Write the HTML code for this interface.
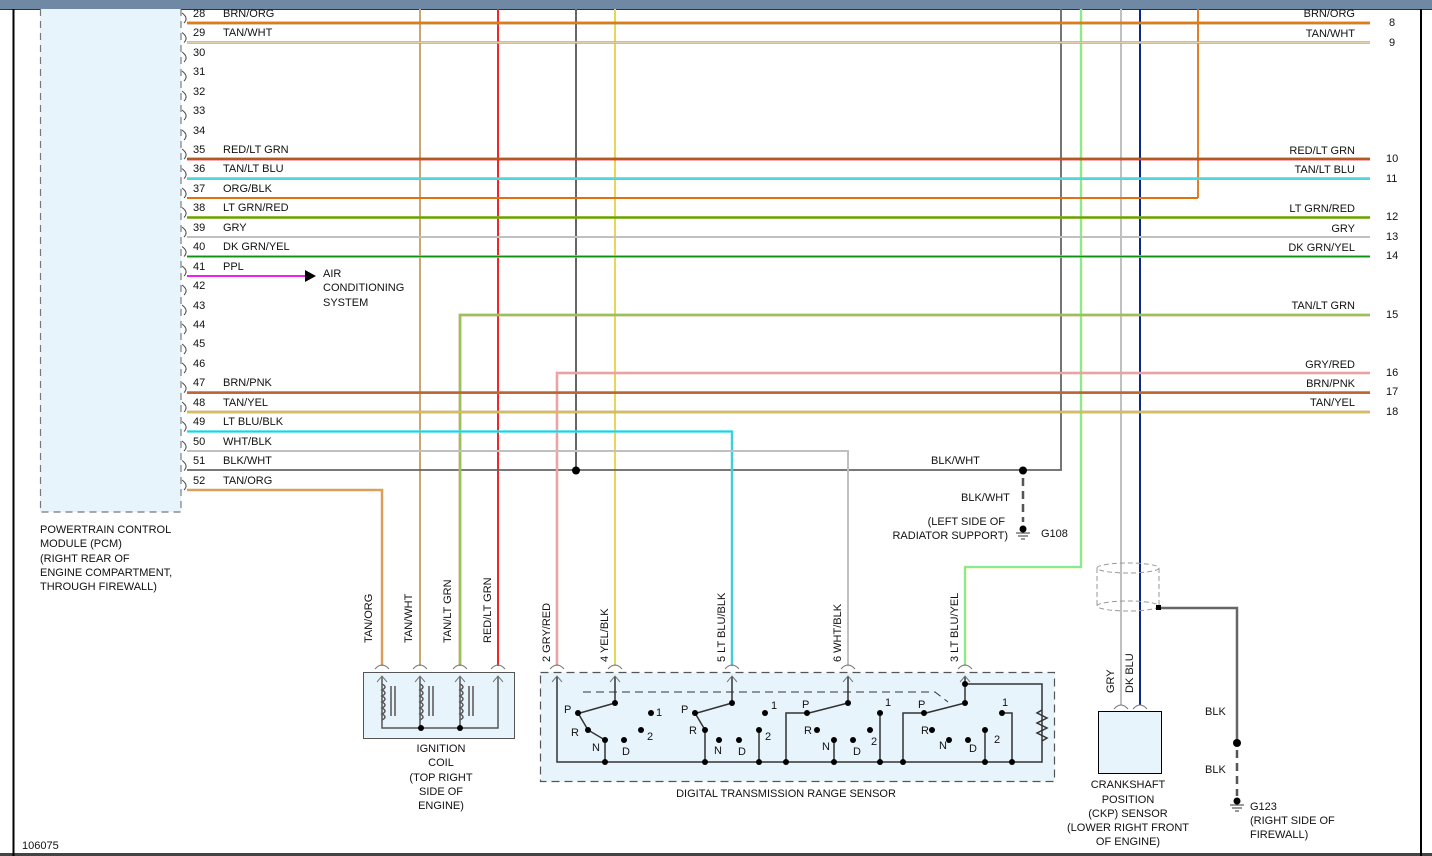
<!DOCTYPE html>
<html><head><meta charset="utf-8"><style>
html,body{margin:0;padding:0;background:#fff;}
svg{display:block;font-family:"Liberation Sans",sans-serif;font-size:11px;}
</style></head><body>
<svg width="1432" height="856" viewBox="0 0 1432 856" xmlns="http://www.w3.org/2000/svg">
<rect x="0" y="0" width="1432" height="856" fill="#fff"/>
<rect x="0" y="0" width="1432" height="9" fill="#6f88a3"/>
<line x1="0" y1="9.5" x2="1432" y2="9.5" stroke="#333" stroke-width="1"/>
<rect x="0" y="853" width="1432" height="3" fill="#444"/>
<line x1="13.5" y1="9" x2="13.5" y2="856" stroke="#000" stroke-width="2"/>
<line x1="1421" y1="9" x2="1421" y2="856" stroke="#000" stroke-width="2"/>

<rect x="40" y="9" width="141" height="503" fill="#e8f4fc"/>
<path d="M40.5,9 V512 H181" fill="none" stroke="#777" stroke-width="1.2" stroke-dasharray="7,5"/>
<path d="M181,9 V512" fill="none" stroke="#666" stroke-width="1" stroke-dasharray="7,5"/>
<g fill="none" stroke="#444" stroke-width="1">
<path d="M182,13 Q189,18 184,23"/><path d="M182,32.5 Q189,37.5 184,42.5"/><path d="M182,52 Q189,57 184,62"/><path d="M182,71 Q189,76 184,81"/><path d="M182,91 Q189,96 184,101"/><path d="M182,110 Q189,115 184,120"/><path d="M182,130 Q189,135 184,140"/><path d="M182,149 Q189,154 184,159"/><path d="M182,168.6 Q189,173.6 184,178.6"/><path d="M182,188 Q189,193 184,198"/><path d="M182,207.5 Q189,212.5 184,217.5"/><path d="M182,227 Q189,232 184,237"/><path d="M182,246.5 Q189,251.5 184,256.5"/><path d="M182,266 Q189,271 184,276"/><path d="M182,285 Q189,290 184,295"/><path d="M182,305 Q189,310 184,315"/><path d="M182,324 Q189,329 184,334"/><path d="M182,344 Q189,349 184,354"/><path d="M182,363 Q189,368 184,373"/><path d="M182,382.6 Q189,387.6 184,392.6"/><path d="M182,402 Q189,407 184,412"/><path d="M182,421.5 Q189,426.5 184,431.5"/><path d="M182,441 Q189,446 184,451"/><path d="M182,460.5 Q189,465.5 184,470.5"/><path d="M182,480 Q189,485 184,490"/>
</g>
<g fill="#111">
<text x="193" y="17">28</text><text x="193" y="36">29</text><text x="193" y="56">30</text><text x="193" y="75">31</text><text x="193" y="95">32</text><text x="193" y="114">33</text><text x="193" y="134">34</text><text x="193" y="153">35</text><text x="193" y="172">36</text><text x="193" y="192">37</text><text x="193" y="211">38</text><text x="193" y="231">39</text><text x="193" y="250">40</text><text x="193" y="270">41</text><text x="193" y="289">42</text><text x="193" y="309">43</text><text x="193" y="328">44</text><text x="193" y="347">45</text><text x="193" y="367">46</text><text x="193" y="386">47</text><text x="193" y="406">48</text><text x="193" y="425">49</text><text x="193" y="445">50</text><text x="193" y="464">51</text><text x="193" y="484">52</text>
<text x="223" y="17">BRN/ORG</text><text x="223" y="36">TAN/WHT</text><text x="223" y="153">RED/LT GRN</text><text x="223" y="172">TAN/LT BLU</text><text x="223" y="192">ORG/BLK</text><text x="223" y="211">LT GRN/RED</text><text x="223" y="231">GRY</text><text x="223" y="250">DK GRN/YEL</text><text x="223" y="270">PPL</text><text x="223" y="386">BRN/PNK</text><text x="223" y="406">TAN/YEL</text><text x="223" y="425">LT BLU/BLK</text><text x="223" y="445">WHT/BLK</text><text x="223" y="464">BLK/WHT</text><text x="223" y="484">TAN/ORG</text>
</g>
<g fill="#111" text-anchor="end">
<text x="1355" y="17">BRN/ORG</text><text x="1355" y="37">TAN/WHT</text><text x="1355" y="154">RED/LT GRN</text><text x="1355" y="173">TAN/LT BLU</text><text x="1355" y="212">LT GRN/RED</text><text x="1355" y="232">GRY</text><text x="1355" y="251">DK GRN/YEL</text><text x="1355" y="309">TAN/LT GRN</text><text x="1355" y="368">GRY/RED</text><text x="1355" y="387">BRN/PNK</text><text x="1355" y="406">TAN/YEL</text>
</g>
<g fill="#111">
<text x="1389" y="26">8</text><text x="1389" y="46">9</text><text x="1386" y="162">10</text><text x="1386" y="182">11</text><text x="1386" y="220">12</text><text x="1386" y="240">13</text><text x="1386" y="259">14</text><text x="1386" y="318">15</text><text x="1386" y="376">16</text><text x="1386" y="395">17</text><text x="1386" y="415">18</text>
</g>

<g fill="none">
<path d="M420,9 V666" stroke="#c8a870" stroke-width="2"/>
<path d="M498,9 V666" stroke="#e82020" stroke-width="2"/><path d="M498,9 V666" stroke="#ff3030" stroke-width="0.8"/>
<path d="M576,9 V470" stroke="#666" stroke-width="2"/>
<path d="M615,9 V666" stroke="#d0c060" stroke-width="2"/><path d="M615,9 V666" stroke="#ffff40" stroke-width="0.8"/>
<path d="M1081,9 V567 H965 V666" stroke="#e8e840" stroke-width="2.5"/><path d="M1081,9 V567 H965 V666" stroke="#20f0f0" stroke-width="1"/>
<path d="M1121,9 V705" stroke="#c0c0c0" stroke-width="2"/>
<path d="M1140,9 V705" stroke="#0a2a8a" stroke-width="2"/>
<path d="M1061,9 V470 H187" stroke="#666" stroke-width="1.8"/>
<path d="M1198,9 V198" stroke="#e07010" stroke-width="1.8"/>
</g>
<g fill="none">
<path d="M187,23 H1370" stroke="#a87838" stroke-width="2.8"/><path d="M187,23 H1370" stroke="#ff8000" stroke-width="1.2"/>
<path d="M187,42.5 H1370" stroke="#c8a870" stroke-width="2.5"/><path d="M187,42.5 H1370" stroke="#e8dcc0" stroke-width="0.8"/>
<path d="M187,159 H1370" stroke="#e02020" stroke-width="2.8"/><path d="M187,159 H1370" stroke="#60c020" stroke-width="0.8"/>
<path d="M187,178.6 H1370" stroke="#c8a870" stroke-width="2.8"/><path d="M187,178.6 H1370" stroke="#40e0f0" stroke-width="1"/>
<path d="M187,198 H1198" stroke="#e07010" stroke-width="2"/>
<path d="M187,217.5 H1370" stroke="#80b020" stroke-width="2.8"/><path d="M187,217.5 H1370" stroke="#a07020" stroke-width="0.8"/>
<path d="M187,237 H1370" stroke="#c0c0c0" stroke-width="2"/>
<path d="M187,256.5 H1370" stroke="#e0e020" stroke-width="2.8"/><path d="M187,256.5 H1370" stroke="#109010" stroke-width="1.5"/>
<path d="M187,276 H306" stroke="#f020f0" stroke-width="2"/>
<path d="M460,666 V315 H1370" stroke="#c8a870" stroke-width="2.8"/><path d="M460,666 V315 H1370" stroke="#60e040" stroke-width="1"/>
<path d="M557,666 V373 H1370" stroke="#e89090" stroke-width="2.5"/><path d="M557,666 V373 H1370" stroke="#f0c0c0" stroke-width="0.8"/>
<path d="M187,392.6 H1370" stroke="#a87838" stroke-width="2.8"/><path d="M187,392.6 H1370" stroke="#c06030" stroke-width="0.8"/>
<path d="M187,412 H1370" stroke="#c8a870" stroke-width="2.8"/><path d="M187,412 H1370" stroke="#e8e040" stroke-width="0.8"/>
<path d="M187,431.5 H732 V666" stroke="#40e0f0" stroke-width="2.5"/><path d="M187,431.5 H732 V666" stroke="#50a0a0" stroke-width="0.6"/>
<path d="M187,451 H848 V666" stroke="#c0c0c0" stroke-width="2"/>
<path d="M187,490 H382 V666" stroke="#c8a870" stroke-width="2.5"/><path d="M187,490 H382 V666" stroke="#ff9030" stroke-width="0.8"/>
</g>
<polygon points="305,270 316,276 305,282" fill="#000"/>
<g fill="#111"><text x="323" y="277">AIR</text><text x="323" y="291">CONDITIONING</text><text x="323" y="306">SYSTEM</text></g>

<circle cx="576" cy="470.5" r="4" fill="#000"/>
<circle cx="1023" cy="470.5" r="4" fill="#000"/>
<path d="M1023,478 V522" stroke="#555" stroke-width="2.5" stroke-dasharray="8,5"/>
<circle cx="1023" cy="529" r="3.5" fill="#000"/>
<path d="M1016,533 H1030 M1018,536 H1028 M1021,539 H1025" stroke="#333" stroke-width="1"/>
<g fill="#111"><text x="931" y="464">BLK/WHT</text><text x="961" y="501">BLK/WHT</text>
<text x="1005" y="525" text-anchor="end">(LEFT SIDE OF</text><text x="1008" y="539" text-anchor="end">RADIATOR SUPPORT)</text><text x="1041" y="537">G108</text></g>

<g fill="none" stroke="#999" stroke-width="1" stroke-dasharray="5,3">
<ellipse cx="1128" cy="568" rx="31" ry="5"/><ellipse cx="1128" cy="606" rx="31" ry="5"/>
<path d="M1097,568 V606 M1159,568 V606"/>
</g>
<path d="M1159,608 H1237 V742" fill="none" stroke="#666" stroke-width="2.5"/>
<rect x="1156" y="605" width="5" height="5" fill="#000"/>
<circle cx="1237" cy="743" r="4" fill="#000"/>
<path d="M1237,750 V796" stroke="#555" stroke-width="2.5" stroke-dasharray="8,5"/>
<circle cx="1237" cy="801" r="3.5" fill="#000"/>
<path d="M1230,805 H1244 M1232,808 H1242 M1235,811 H1239" stroke="#333" stroke-width="1"/>
<g fill="#111"><text x="1205" y="715">BLK</text><text x="1205" y="773">BLK</text><text x="1250" y="810">G123</text><text x="1250" y="824">(RIGHT SIDE OF</text><text x="1250" y="838">FIREWALL)</text></g>

<rect x="1098.5" y="711.5" width="63" height="62" fill="#e8f4fc" stroke="#000" stroke-width="1"/>
<g fill="#111" text-anchor="middle"><text x="1128" y="788">CRANKSHAFT</text><text x="1128" y="803">POSITION</text><text x="1128" y="817">(CKP) SENSOR</text><text x="1128" y="831">(LOWER RIGHT FRONT</text><text x="1128" y="845">OF ENGINE)</text></g>

<rect x="363.5" y="672.5" width="151" height="66" fill="#e8f4fc" stroke="#555" stroke-width="1"/>
<g fill="none" stroke="#555" stroke-width="1.5">
<path d="M382,677 V728 H498 V677"/>
<path d="M420,677 V728 M460,677 V728"/>
<path d="M382,684 q6,3 0,6 q6,3 0,6 q6,3 0,6 q6,3 0,6 q6,3 0,6 q6,3 0,6"/>
<path d="M420,684 q6,3 0,6 q6,3 0,6 q6,3 0,6 q6,3 0,6 q6,3 0,6 q6,3 0,6"/>
<path d="M460,684 q6,3 0,6 q6,3 0,6 q6,3 0,6 q6,3 0,6 q6,3 0,6 q6,3 0,6"/>
<path d="M391,686 V716 M395,686 V716 M429,686 V716 M433,686 V716 M469,686 V716 M473,686 V716"/>
</g>
<circle cx="421" cy="728" r="3" fill="#000"/><circle cx="460" cy="728" r="3" fill="#000"/>
<g fill="#111" text-anchor="middle"><text x="441" y="752">IGNITION</text><text x="441" y="766">COIL</text><text x="441" y="781">(TOP RIGHT</text><text x="441" y="795">SIDE OF</text><text x="441" y="809">ENGINE)</text></g>

<rect x="540.5" y="672.5" width="514" height="109" fill="#e8f4fc" stroke="#555" stroke-width="1.2" stroke-dasharray="8,5"/>
<path d="M583,692 H935 L948,702" fill="none" stroke="#333" stroke-width="1" stroke-dasharray="8,5"/>
<g fill="none" stroke="#333" stroke-width="1.5">
<path d="M557,677 V762 H1042 V684 H965"/>
<path d="M615,677 V703 L580,713 M578,713 L588,730 L605,740 V762"/>
<path d="M732,677 V703 L697,713 M695,713 L705,730 V762 M759,730 V762"/>
<path d="M848,677 V703 L809,713 M807,713 H786 V762 M834,740 V762 M880,713 V762"/>
<path d="M965,677 V703 L926,713 M924,713 H903 V762 M985,730 V762 M1002,713 H1012 V762"/>
<path d="M1042,710 l-5,3 10,5 -10,5 10,5 -10,5 10,5 -5,3"/>
</g>
<g fill="#000">
<circle cx="615" cy="703" r="3"/><circle cx="578" cy="713" r="3"/><circle cx="588" cy="730" r="3"/><circle cx="605" cy="740" r="3"/><circle cx="624" cy="740" r="3"/><circle cx="641" cy="730" r="3"/><circle cx="651" cy="713" r="3"/>
<circle cx="732" cy="703" r="3"/><circle cx="695" cy="713" r="3"/><circle cx="705" cy="730" r="3"/><circle cx="719" cy="740" r="3"/><circle cx="739" cy="740" r="3"/><circle cx="759" cy="730" r="3"/><circle cx="765" cy="713" r="3"/>
<circle cx="848" cy="703" r="3"/><circle cx="807" cy="713" r="3"/><circle cx="817" cy="730" r="3"/><circle cx="834" cy="740" r="3"/><circle cx="853" cy="740" r="3"/><circle cx="870" cy="730" r="3"/><circle cx="880" cy="713" r="3"/>
<circle cx="965" cy="703" r="3"/><circle cx="965" cy="684" r="3"/><circle cx="924" cy="713" r="3"/><circle cx="932" cy="730" r="3"/><circle cx="949" cy="740" r="3"/><circle cx="968" cy="740" r="3"/><circle cx="985" cy="730" r="3"/><circle cx="1002" cy="713" r="3"/>
<circle cx="605" cy="762" r="3"/><circle cx="705" cy="762" r="3"/><circle cx="759" cy="762" r="3"/><circle cx="786" cy="762" r="3"/><circle cx="834" cy="762" r="3"/><circle cx="880" cy="762" r="3"/><circle cx="903" cy="762" r="3"/><circle cx="985" cy="762" r="3"/><circle cx="1012" cy="762" r="3"/>
</g>
<g fill="#111">
<text x="564" y="713">P</text><text x="571" y="736">R</text><text x="592" y="751">N</text><text x="622" y="755">D</text><text x="656" y="716">1</text><text x="647" y="740">2</text>
<text x="681" y="713">P</text><text x="689" y="734">R</text><text x="714" y="754">N</text><text x="738" y="755">D</text><text x="771" y="709">1</text><text x="765" y="740">2</text>
<text x="802" y="708">P</text><text x="804" y="734">R</text><text x="822" y="750">N</text><text x="853" y="755">D</text><text x="885" y="706">1</text><text x="871" y="745">2</text>
<text x="918" y="708">P</text><text x="921" y="734">R</text><text x="939" y="749">N</text><text x="969" y="752">D</text><text x="1002" y="706">1</text><text x="994" y="743">2</text>
</g>
<text x="786" y="797" fill="#111" text-anchor="middle">DIGITAL TRANSMISSION RANGE SENSOR</text>

<g fill="none" stroke="#777" stroke-width="1">
<path d="M375,669 Q382,661 389,669 M377,682 L382,676 L387,682"/>
<path d="M413,669 Q420,661 427,669 M415,682 L420,676 L425,682"/>
<path d="M453,669 Q460,661 467,669 M455,682 L460,676 L465,682"/>
<path d="M491,669 Q498,661 505,669 M493,682 L498,676 L503,682"/>
<path d="M550,669 Q557,661 564,669 M552,682 L557,676 L562,682"/>
<path d="M608,669 Q615,661 622,669 M610,682 L615,676 L620,682"/>
<path d="M725,669 Q732,661 739,669 M727,682 L732,676 L737,682"/>
<path d="M841,669 Q848,661 855,669 M843,682 L848,676 L853,682"/>
<path d="M958,669 Q965,661 972,669 M960,682 L965,676 L970,682"/>
<path d="M1114,709 Q1121,701 1128,709 M1133,709 Q1140,701 1147,709"/>
</g>

<g fill="#111">
<text transform="translate(372,643) rotate(-90)">TAN/ORG</text>
<text transform="translate(412,643) rotate(-90)">TAN/WHT</text>
<text transform="translate(451,643) rotate(-90)">TAN/LT GRN</text>
<text transform="translate(491,643) rotate(-90)">RED/LT GRN</text>
<text transform="translate(550,662) rotate(-90)">2  GRY/RED</text>
<text transform="translate(608,662) rotate(-90)">4  YEL/BLK</text>
<text transform="translate(725,662) rotate(-90)">5  LT BLU/BLK</text>
<text transform="translate(841,662) rotate(-90)">6  WHT/BLK</text>
<text transform="translate(958,662) rotate(-90)">3  LT BLU/YEL</text>
<text transform="translate(1114,693) rotate(-90)">GRY</text>
<text transform="translate(1133,693) rotate(-90)">DK BLU</text>
</g>

<g fill="#111"><text x="40" y="533">POWERTRAIN CONTROL</text><text x="40" y="547">MODULE (PCM)</text><text x="40" y="562">(RIGHT REAR OF</text><text x="40" y="576">ENGINE COMPARTMENT,</text><text x="40" y="590">THROUGH FIREWALL)</text>
<text x="22" y="849">106075</text></g>
</svg>
</body></html>
